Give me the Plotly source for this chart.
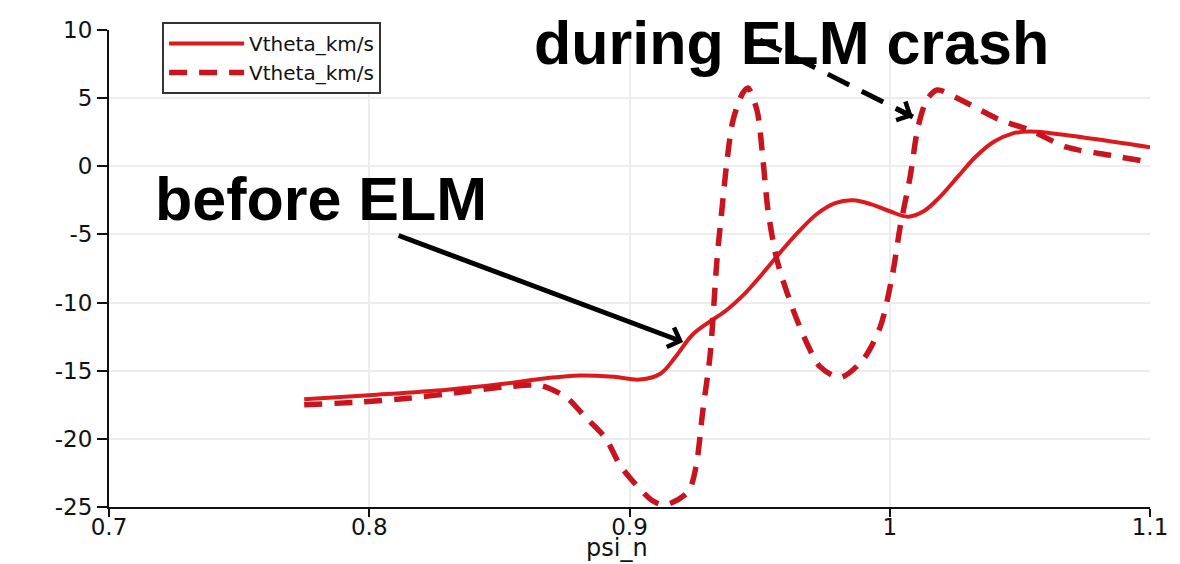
import plotly.graph_objects as go

# ---- data ----
psi_before = [0.775, 0.80, 0.83, 0.85, 0.868, 0.881, 0.894, 0.904, 0.912, 0.918,
              0.924, 0.930, 0.937, 0.944, 0.951, 0.958, 0.965, 0.972, 0.979,
              0.986, 0.993, 1.000, 1.007, 1.013, 1.019, 1.026, 1.033, 1.040,
              1.047, 1.054, 1.075, 1.1]
v_before = [-17.1, -16.8, -16.4, -16.0, -15.55, -15.35, -15.45, -15.65, -15.2, -13.9,
            -12.4, -11.5, -10.6, -9.4, -7.9, -6.3, -4.8, -3.5, -2.7,
            -2.5, -2.8, -3.3, -3.7, -3.3, -2.3, -0.8, 0.7, 1.8,
            2.4, 2.55, 2.1, 1.4]

psi_during = [0.775, 0.796, 0.816, 0.834, 0.852, 0.866, 0.876, 0.883, 0.8906, 0.897,
              0.9086, 0.9136, 0.9225, 0.9255, 0.9282, 0.931, 0.9336, 0.9355, 0.9375,
              0.9398, 0.9436, 0.9455, 0.949, 0.9513, 0.9532, 0.9567, 0.9628, 0.9682,
              0.9732, 0.9809, 0.9897, 0.9963, 1.0009, 1.004, 1.0078, 1.0109, 1.0143,
              1.0182, 1.027, 1.0424, 1.0539, 1.068, 1.085, 1.1]
v_during = [-17.5, -17.3, -17.0, -16.6, -16.2, -16.1, -17.0, -18.4, -19.9, -22.1,
            -24.5, -24.85, -23.9, -22.1, -17.9, -13.8, -6.9, -3.2, 0.46,
            3.4, 5.4, 5.75, 4.1, 0.46, -3.2, -6.9, -10.5, -13.0,
            -14.7, -15.5, -14.2, -11.8, -8.1, -4.45, -0.8, 2.9, 4.9,
            5.6, 4.9, 3.4, 2.66, 1.4, 0.8, 0.3]

series_names = ["Vtheta_km/s", "Vtheta_km/s"]
x_ticks = [0.7, 0.8, 0.9, 1.0, 1.1]
x_tick_text = ["0.7", "0.8", "0.9", "1", "1.1"]
y_ticks = [10, 5, 0, -5, -10, -15, -20, -25]
y_tick_text = ["10", "5", "0", "-5", "-10", "-15", "-20", "-25"]
x_title = "psi_n"
label_before = "before ELM"
label_during = "during ELM crash"

# annotation anchor points (data coordinates)
before_text_pos = (0.7815, -2.4)
during_text_pos = (0.9624, 9.05)
before_arrow_tip = (0.9206, -12.89)
during_arrow_tail = (0.9501, 9.27)
during_arrow_tip = (1.0089, 3.62)

fig = go.Figure()
fig.add_trace(go.Scatter(
    x=psi_before, y=v_before, mode="lines", name=series_names[0],
    line=dict(color="#dc1a1e", width=4, shape="spline", smoothing=1.0),
))
fig.add_trace(go.Scatter(
    x=psi_during, y=v_during, mode="lines", name=series_names[1],
    line=dict(color="#c8141f", width=5.5, dash="18px,12px", shape="spline", smoothing=0.8),
))

tick_font = dict(family="DejaVu Sans", size=23, color="#111111")

fig.update_xaxes(
    range=[0.7, 1.1], tickvals=x_ticks, ticktext=x_tick_text, automargin=False,
    showline=True, linecolor="#111111", linewidth=2,
    ticks="outside", ticklen=8, tickwidth=2, tickcolor="#111111",
    showgrid=True, gridcolor="#ececec", gridwidth=1.5, zeroline=False,
    tickfont=tick_font, ticklabelstandoff=-10,
)
fig.update_yaxes(
    range=[-25, 10], tickvals=y_ticks, ticktext=y_tick_text, automargin=False,
    showline=True, linecolor="#111111", linewidth=2,
    ticks="outside", ticklen=10, tickwidth=2, tickcolor="#111111",
    showgrid=True, gridcolor="#ececec", gridwidth=1.5, zeroline=False,
    tickfont=tick_font,
)

# x axis title placed at the bottom edge, below the tick labels
fig.add_annotation(x=0.488, y=0, xref="paper", yref="paper", yshift=-57,
                   text=x_title, showarrow=False, xanchor="center", yanchor="bottom",
                   font=dict(family="DejaVu Sans", size=24, color="#111111"))

# dashed arrow line for "during ELM crash"
fig.add_shape(type="line", xref="x", yref="y",
              x0=during_arrow_tail[0], y0=during_arrow_tail[1],
              x1=during_arrow_tip[0], y1=during_arrow_tip[1],
              line=dict(color="black", width=5, dash="24px,14px"))

fig.add_annotation(x=during_arrow_tip[0], y=during_arrow_tip[1], ax=-18, ay=-9,
                   xref="x", yref="y", axref="pixel", ayref="pixel",
                   showarrow=True, arrowhead=4, arrowsize=0.8, arrowwidth=5,
                   arrowcolor="black", text="")
fig.add_annotation(x=before_arrow_tip[0], y=before_arrow_tip[1], ax=-286, ay=-107,
                   xref="x", yref="y",
                   showarrow=True, arrowhead=4, arrowsize=0.8, arrowwidth=5,
                   arrowcolor="black", text="")

text_font = dict(family="Liberation Sans", size=61, color="black", weight="bold")
fig.add_annotation(x=before_text_pos[0], y=before_text_pos[1], text=label_before,
                   showarrow=False, font=text_font, xanchor="center", yanchor="middle")
fig.add_annotation(x=during_text_pos[0], y=during_text_pos[1], text=label_during,
                   showarrow=False, font=text_font, xanchor="center", yanchor="middle")

fig.update_layout(
    width=1180, height=564,
    margin=dict(l=109, r=30, t=30, b=57, autoexpand=False),
    paper_bgcolor="white", plot_bgcolor="white",
    showlegend=True,
    legend=dict(x=0.051, y=1.017, xanchor="left", yanchor="top",
                bordercolor="#333333", borderwidth=2, bgcolor="white",
                font=dict(family="DejaVu Sans", size=20, color="#111111"),
                itemwidth=75, tracegroupgap=0),
)

fig.write_html("out.html")
